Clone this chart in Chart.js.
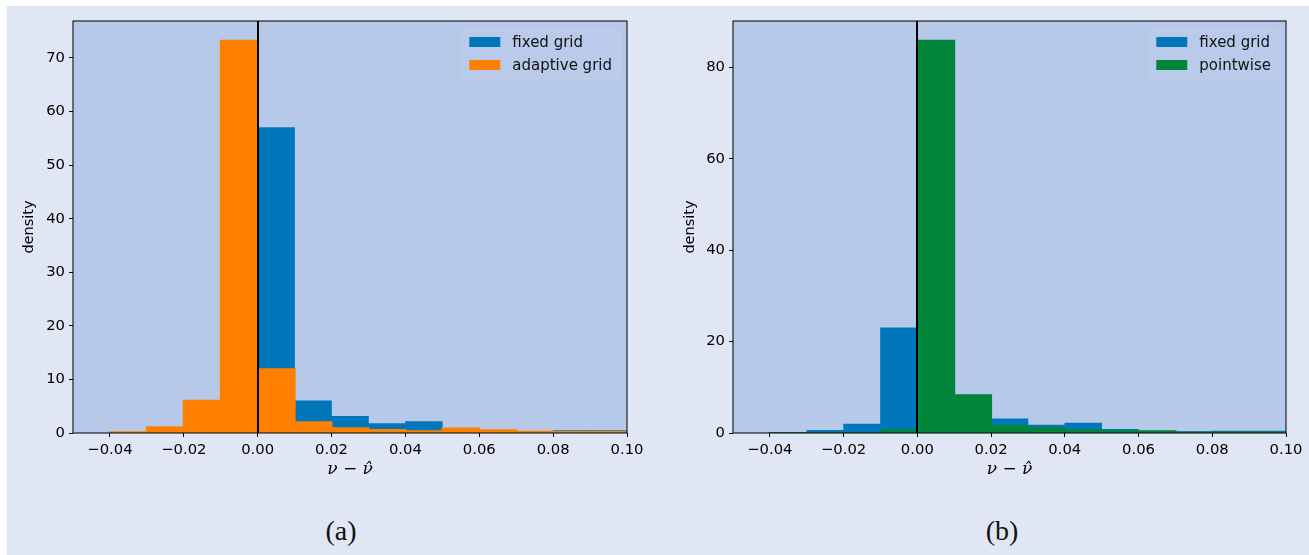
<!DOCTYPE html>
<html>
<head>
<meta charset="utf-8">
<script src="https://cdn.jsdelivr.net/npm/chart.js@4.4.1/dist/chart.umd.min.js"></script>
<style>
html, body { margin: 0; padding: 0; background: #fff; }
body { width: 1309px; height: 555px; position: relative; overflow: hidden; }
#bg { position: absolute; left: 7px; top: 6px; right: 0; bottom: 0; background: #e0e6f3; }
.panel { position: absolute; top: 0; height: 490px; }
#pa { left: 0; width: 654px; }
#pb { left: 654px; width: 655px; }
.cap { position: absolute; top: 514px; width: 100px; text-align: center;
       font-family: 'Liberation Serif', serif; font-size: 28px; line-height: 34px; color: #111; }
</style>
</head>
<body>
<div id="bg"></div>
<div class="panel" id="pa"><canvas id="chartA"></canvas></div>
<div class="panel" id="pb"><canvas id="chartB"></canvas></div>
<div class="cap" style="left:291px">(a)</div>
<div class="cap" style="left:952px">(b)</div>
<script>
// left edges of the histogram bins (width 0.01)
const binStarts = [-0.04, -0.03, -0.02, -0.01, 0.00, 0.01, 0.02, 0.03, 0.04, 0.05, 0.06, 0.07, 0.08, 0.09];
const binWidth = 0.01;

// densities
const fixedGrid    = [0, 0.58, 1.97, 23.0, 57.0, 6.0, 3.1, 1.75, 2.15, 0.8, 0.3, 0.33, 0.45, 0.45];
const adaptiveGrid = [0.15, 1.05, 6.0, 73.2, 11.9, 2.0, 0.9, 0.55, 0.32, 0.85, 0.5, 0.25, 0.2, 0.2];
const pointwise    = [0, 0, 0, 0.58, 85.85, 8.25, 1.53, 1.1, 0.58, 0.44, 0.36, 0.1, 0.1, 0.1];

const xTicks  = [-0.04, -0.02, 0.00, 0.02, 0.04, 0.06, 0.08, 0.10];
const yTicksA = [0, 10, 20, 30, 40, 50, 60, 70];
const yTicksB = [0, 20, 40, 60, 80];

const BLUE = '#0077bb', ORANGE = '#ff8000', GREEN = '#00853b';
const PLOT_BG = '#b7c9e8';

function toPoints(vals) {
  return binStarts.map((b, i) => ({ x: b + binWidth / 2, y: vals[i] }));
}

function fmtX(v) {
  return v.toFixed(2).replace('-', '\u2212');
}

const areaPlugin = {
  id: 'area',
  beforeDatasetsDraw(chart) {
    const { ctx, chartArea: a } = chart;
    ctx.save();
    ctx.fillStyle = PLOT_BG;
    ctx.fillRect(a.left, a.top, a.right - a.left, a.bottom - a.top);
    ctx.restore();
  },
  afterDatasetsDraw(chart) {
    const { ctx, chartArea: a } = chart;
    const x0 = Math.round(chart.scales.x.getPixelForValue(0));
    ctx.save();
    ctx.strokeStyle = '#000';
    ctx.lineWidth = 2;
    ctx.beginPath();
    ctx.moveTo(x0, a.top);
    ctx.lineTo(x0, a.bottom);
    ctx.stroke();
    ctx.lineWidth = 1.1;
    ctx.strokeStyle = '#111';
    ctx.strokeRect(a.left, a.top, a.right - a.left, a.bottom - a.top);
    ctx.restore();
  },
  afterDraw(chart) {
    // matplotlib-like legend in the upper right corner
    const { ctx, chartArea: a } = chart;
    const ds = chart.data.datasets;
    ctx.save();
    ctx.font = '15px "DejaVu Sans"';
    const tw = Math.max(...ds.map(d => ctx.measureText(d.label).width));
    const w = 7 + 31 + 12 + tw + 8, h = 50;
    const x = a.right - 7 - w, y = a.top + 8;
    ctx.beginPath();
    ctx.roundRect(x, y, w, h, 3);
    ctx.fillStyle = 'rgba(185,203,234,0.8)';
    ctx.fill();
    ctx.strokeStyle = '#c6cedc';
    ctx.lineWidth = 1;
    ctx.stroke();
    ds.forEach((d, i) => {
      const cy = y + 13 + i * 23;
      ctx.fillStyle = d.backgroundColor;
      ctx.fillRect(x + 7, cy - 5, 31, 10);
      ctx.fillStyle = '#111';
      ctx.textBaseline = 'middle';
      ctx.fillText(d.label, x + 50, cy + 1);
    });
    ctx.restore();
  }
};

function makeChart(id, second, yMax, yTicks, yAxisWidth, titlePad, padRight) {
  const font = { family: 'DejaVu Sans', size: 14.8 };
  return new Chart(document.getElementById(id), {
    type: 'bar',
    data: {
      datasets: [
        { label: 'fixed grid', data: toPoints(fixedGrid), backgroundColor: BLUE, order: 2, inflateAmount: 0.3 },
        second
      ]
    },
    options: {
      responsive: true,
      maintainAspectRatio: false,
      animation: false,
      layout: { padding: { top: 21, right: padRight, left: 0, bottom: 0 } },
      datasets: { bar: { grouped: false, barPercentage: 1, categoryPercentage: 1, borderWidth: 0 } },
      plugins: { legend: { display: false }, tooltip: { enabled: false } },
      scales: {
        x: {
          type: 'linear',
          min: -0.05,
          max: 0.10,
          offset: false,
          afterBuildTicks: s => { s.ticks = xTicks.map(v => ({ value: v })); },
          afterFit: s => { s.height = 57; },
          ticks: { color: '#000', font: font, padding: 4, maxRotation: 0, autoSkip: false,
                   callback: v => fmtX(v) },
          grid: { drawOnChartArea: false, tickLength: 4, color: '#000', offset: false },
          border: { display: false },
          title: { display: true, text: '\u03BD \u2212 \u03BD\u0302', color: '#000',
                   font: { family: 'DejaVu Serif', style: 'italic', size: 17, lineHeight: 1 },
                   padding: { top: 0, bottom: 12 } }
        },
        y: {
          min: 0,
          max: yMax,
          afterBuildTicks: s => { s.ticks = yTicks.map(v => ({ value: v })); },
          afterFit: s => { s.width = yAxisWidth; },
          ticks: { color: '#000', font: font, padding: 4 },
          grid: { drawOnChartArea: false, tickLength: 4, color: '#000' },
          border: { display: false },
          title: { display: true, text: 'density', color: '#000',
                   font: { family: 'DejaVu Sans', size: 14.5, lineHeight: 1 },
                   padding: { top: titlePad, bottom: 0 } }
        }
      }
    },
    plugins: [areaPlugin]
  });
}

makeChart('chartA',
  { label: 'adaptive grid', data: toPoints(adaptiveGrid), backgroundColor: ORANGE, order: 1, inflateAmount: 1 },
  76.9, yTicksA, 73, 21.8, 27);
makeChart('chartB',
  { label: 'pointwise', data: toPoints(pointwise), backgroundColor: GREEN, order: 1, inflateAmount: 1 },
  90.15, yTicksB, 79, 28.8, 23);
</script>
</body>
</html>
